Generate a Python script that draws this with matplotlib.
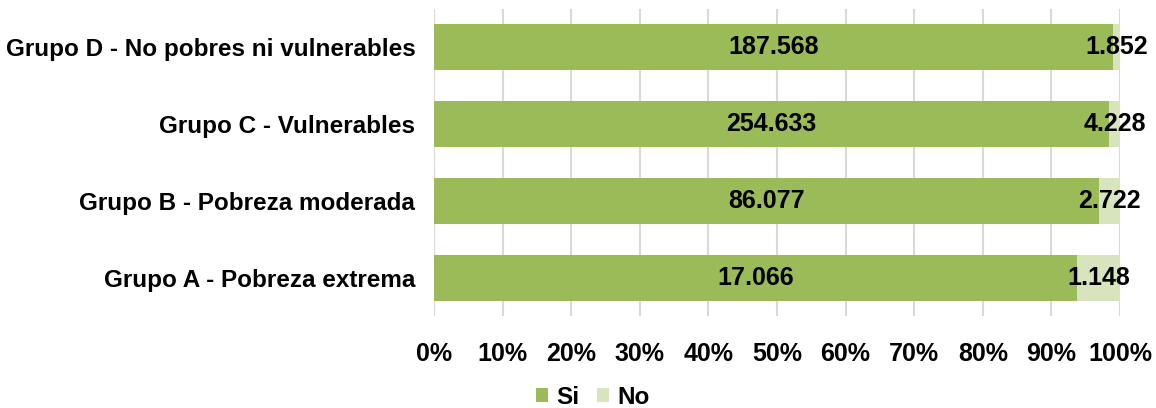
import matplotlib
matplotlib.use("Agg")
import matplotlib.pyplot as plt
import numpy as np

plt.rcParams['font.family'] = ['Liberation Sans', 'DejaVu Sans']
plt.rcParams['font.weight'] = 'bold'

categories = ["Grupo A - Pobreza extrema", "Grupo B - Pobreza moderada",
              "Grupo C - Vulnerables", "Grupo D - No pobres ni vulnerables"]
si_values = [17066, 86077, 254633, 187568]
no_values = [1148, 2722, 4228, 1852]
tick_labels = ["0%", "10%", "20%", "30%", "40%", "50%", "60%", "70%", "80%", "90%", "100%"]

si_color = "#9BBB59"
no_color = "#D7E4BD"

si = np.array(si_values, dtype=float)
no = np.array(no_values, dtype=float)
tot = si + no
si_p = si / tot
no_p = no / tot

def fmt(v):
    return f"{v:,}".replace(",", ".")

fig = plt.figure(figsize=(11.56, 4.08), dpi=100)
ax = fig.add_axes([434/1156, 1-316/408, (1120-434)/1156, (316-9)/408])
y = np.arange(len(categories))
ax.barh(y, si_p, height=0.6, color=si_color, label="Si", zorder=3)
ax.barh(y, no_p, left=si_p, height=0.6, color=no_color, label="No", zorder=3)

for i in range(len(categories)):
    ax.text(si_p[i] / 2, y[i], fmt(si_values[i]), ha='center', va='center',
            fontsize=18, fontweight='bold', color='black', zorder=4)
    ax.text(si_p[i] + no_p[i] / 2, y[i], fmt(no_values[i]), ha='center', va='center',
            fontsize=18, fontweight='bold', color='black', zorder=4)

ax.set_xlim(0, 1)
ax.set_ylim(-0.5, len(categories) - 0.5)
ax.set_xticks(np.linspace(0, 1, 11))
ax.set_xticklabels(tick_labels, fontsize=18, fontweight='bold')
ax.set_yticks(y)
ax.set_yticklabels(categories, fontsize=17.5, fontweight='bold')
ax.tick_params(axis='both', length=0)
ax.tick_params(axis='x', pad=19)
ax.tick_params(axis='y', pad=13.5)
for s in ax.spines.values():
    s.set_visible(False)
ax.grid(axis='x', color='#D9D9D9', linewidth=1.5, zorder=0)
ax.set_axisbelow(True)

handles, labels = ax.get_legend_handles_labels()
fig.legend(handles, labels, loc='center', bbox_to_anchor=(593/1156, 1-397/408),
           ncol=2, frameon=False, handlelength=0.5, handleheight=0.5,
           handletextpad=0.35, columnspacing=0.7, prop={'weight': 'bold', 'size': 17.5})

fig.savefig("out.png", dpi=100)
